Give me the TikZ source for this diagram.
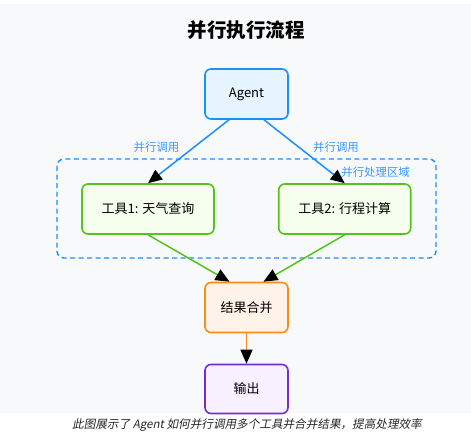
\documentclass[tikz,border=0pt]{standalone}
\usepackage{fontspec}
\setmainfont{Noto Sans CJK SC}
\newfontfamily\capfont[FakeSlant=0.2]{Noto Sans CJK SC}
\usetikzlibrary{arrows.meta,calc}
\definecolor{bggray}{HTML}{F8F9FA}
\definecolor{agentfill}{HTML}{E6F4FF}
\definecolor{agentdraw}{HTML}{1890FF}
\definecolor{toolfill}{HTML}{F6FFED}
\definecolor{tooldraw}{HTML}{52C41A}
\definecolor{mergefill}{HTML}{FFF2E8}
\definecolor{mergedraw}{HTML}{FA8C16}
\definecolor{outfill}{HTML}{F9F0FF}
\definecolor{outdraw}{HTML}{722ED1}
\definecolor{lblblue}{HTML}{4096FF}
\tikzset{
  box/.style={rounded corners=6pt, line width=1.6pt, minimum height=50pt, inner sep=0pt, font=\fontsize{13}{15}\selectfont},
  arr/.style={line width=1.5pt, -{Triangle[length=14pt,width=12pt,fill=black,color=black]}},
  lbl/.style={text=lblblue, font=\fontsize{11.4}{13}\selectfont, inner sep=0pt},
}
\begin{document}
\begin{tikzpicture}[x=1pt,y=-1pt]
\useasboundingbox (0,0) rectangle (471,439);
\fill[bggray] (0,4) rectangle (471,413);
\node[font=\bfseries\fontsize{19.5}{22}\selectfont] (title) at (246,30) {并行执行流程};
% parallel region
\draw[agentdraw, line width=1.4pt, dash pattern=on 5pt off 3.5pt, rounded corners=7pt] (57,159) rectangle (436,258);
\node[lbl, anchor=east] (region) at (410,172) {并行处理区域};
% nodes
\node[box, draw=agentdraw, fill=agentfill, minimum width=83pt] (agent) at (246.5,94) {Agent};
\node[box, draw=tooldraw, fill=toolfill, minimum width=132pt] (t1) at (148,209) {工具1: 天气查询};
\node[box, draw=tooldraw, fill=toolfill, minimum width=132pt] (t2) at (344.7,209) {工具2: 行程计算};
\node[box, draw=mergedraw, fill=mergefill, minimum width=83pt] (merge) at (246.5,307.5) {结果合并};
\node[box, draw=outdraw, fill=outfill, minimum width=83pt, minimum height=49pt] (out) at (246.5,389) {输出};
% edges
\draw[arr, agentdraw] ($(agent.south)+(-17.5,0)$) -- (t1.north);
\draw[arr, agentdraw] ($(agent.south)+(17.5,0)$) -- (t2.north);
\node[lbl] (l1) at (156.5,147) {并行调用};
\node[lbl] (l2) at (336,147) {并行调用};
\draw[arr, tooldraw] (t1.south) -- ($(merge.north)+(-17,0)$);
\draw[arr, tooldraw] (t2.south) -- ($(merge.north)+(17,0)$);
\draw[arr, mergedraw] (merge.south) -- (out.north);
% caption
\node[text=black!85, font=\capfont\fontsize{11.6}{13}\selectfont] (cap) at (247,425) {此图展示了 Agent 如何并行调用多个工具并合并结果，提高处理效率};
\end{tikzpicture}
\end{document}
